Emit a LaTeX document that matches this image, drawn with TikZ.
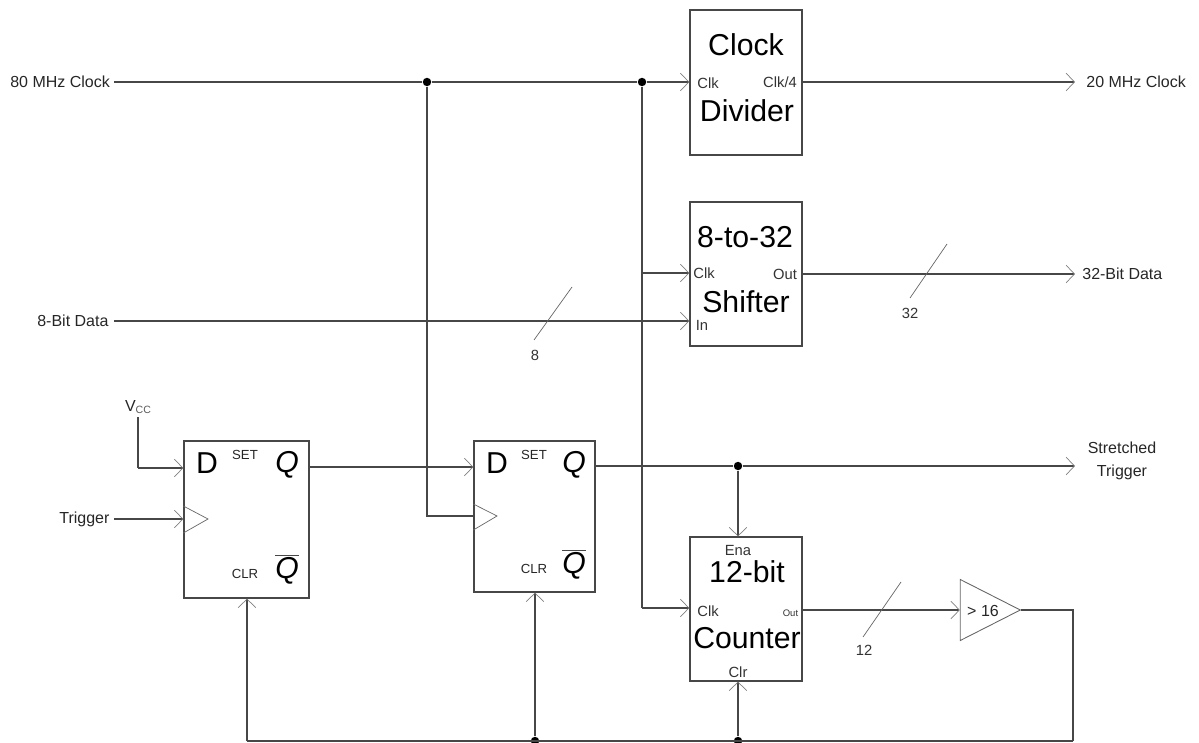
\documentclass[tikz,border=0pt]{standalone}
\usepackage{fontspec}
\setmainfont{Liberation Sans}
\usetikzlibrary{arrows.meta,shapes.geometric}

\begin{document}
\begin{tikzpicture}[x=0.02cm,y=-0.02cm]

% --- Global TikZ Styles ---
\tikzset{
    wire/.style={
        draw=black!72,
        line width=0.75pt
    },
    arrow/.style={
        wire,
        -{Straight Barb[length=4.8pt,width=10pt,line width=0.4pt,black!50]}
    },
    thinmark/.style={
        draw=black!60,
        line width=0.4pt
    },
    block/.style={
        draw=black!72,
        line width=0.75pt,
        rectangle,
        inner sep=0pt,
        minimum width=2.24cm
    },
    junction/.style={
        circle,
        fill=black,
        inner sep=0pt,
        minimum size=4.8pt
    },
    bigtext/.style={
        font=\fontsize{17.2}{19}\selectfont,
        inner sep=0pt
    },
    qtext/.style={
        font=\fontsize{17.2}{19}\selectfont\itshape,
        inner sep=0pt
    },
    pintext/.style={
        font=\fontsize{8.4}{10}\selectfont,
        text=black!80,
        inner sep=0pt
    },
    captext/.style={
        font=\fontsize{7.5}{9}\selectfont,
        text=black!85,
        inner sep=0pt
    },
    sigtext/.style={
        font=\fontsize{9.1}{10}\selectfont,
        text=black!85,
        align=center,
        inner sep=0pt
    },
    comparator/.style={
        draw=black!60,
        line width=0.5pt,
        isosceles triangle,
        isosceles triangle stretches,
        shape border rotate=0,
        inner sep=0pt,
        minimum width=1.22cm,
        minimum height=1.2cm
    }
}

\useasboundingbox (0,0) rectangle (1199,743);

% ==================================================
% --- Blocks ---
% ==================================================

\node[block,minimum height=2.9cm] (divider) at (746,82.5) {};
\node[block,minimum height=2.88cm] (shifter) at (746,274) {};
\node[block,minimum height=2.88cm] (counter) at (746,609) {};
\node[block,minimum width=2.5cm,minimum height=3.14cm] (ffa) at (246.5,519.5) {};
\node[block,minimum width=2.42cm,minimum height=3.02cm] (ffb) at (534.5,516.5) {};
\node[comparator] (cmp) at (979,610) {};

% Block titles
\node[bigtext] (divtitle) at (746,45) {Clock};
\node[bigtext] (divtitleb) at (747,111) {Divider};
\node[bigtext] (shtitle) at (745,237) {8-to-32};
\node[bigtext] (shtitleb) at (746,302) {Shifter};
\node[bigtext] (cnttitle) at (747,572) {12-bit};
\node[bigtext] (cnttitleb) at (747,638) {Counter};

% Pin names
\node[pintext] (divclk) at (708,83.5) {Clk};
\node[pintext] (divout) at (780,82) {Clk/4};
\node[pintext] (shclk) at (704,273) {Clk};
\node[pintext] (shout) at (785,274) {Out};
\node[pintext] (shin) at (702,325) {In};
\node[pintext] (cntena) at (738,550) {Ena};
\node[pintext] (cntclk) at (708,611) {Clk};
\node[pintext,font=\fontsize{5.4}{6}\selectfont] (cntout) at (790.5,613) {Out};
\node[pintext] (cntclr) at (738,672) {Clr};
\node[sigtext] (cmptext) at (983,611) {> 16};

% Flip-flop pin names
\foreach \ff/\xd/\xset/\xq/\yclr/\ynq in {ffa/207/245/287/574/571,ffb/497/534/574/569/566}{
    \node[bigtext] (\ff d) at (\xd,463) {D};
    \node[captext] (\ff set) at (\xset,455) {SET};
    \node[qtext] (\ff q) at (\xq,465) {Q};
    \node[captext] (\ff clr) at (\xset,\yclr) {CLR};
    \node[qtext] (\ff nq) at (\xq,\ynq) {Q};
    \draw[wire,line width=1pt] ({\xq-12},{\ynq-15.5}) -- ++(24,0);
}

% ==================================================
% --- Clock triangles ---
% ==================================================

\draw[thinmark] (ffa.west |- 0,506) -- (208,519) -- (ffa.west |- 0,533);
\draw[thinmark] (ffb.west |- 0,504) -- (497,516) -- (ffb.west |- 0,530);

% ==================================================
% --- Signal labels ---
% ==================================================

\node[sigtext,anchor=west] (clkin) at (10,82) {80 MHz Clock};
\node[sigtext,anchor=west] (clkout) at (1086,82) {20 MHz Clock};
\node[sigtext,anchor=west] (datain) at (37,321) {8-Bit Data};
\node[sigtext,anchor=west] (dataout) at (1082,274) {32-Bit Data};
\node[sigtext,anchor=west] (trigin) at (59,519) {Trigger};
\node[sigtext] (trigout) at (1122,461) {Stretched\\[3pt]Trigger};
\node[sigtext] (vcc) at (138,407) {V\raisebox{-1pt}{\fontsize{6}{6}\selectfont\color{black!65}CC}};
\node[pintext] (widtha) at (535,355) {8};
\node[pintext] (widthb) at (910,313) {32};
\node[pintext] (widthc) at (864,650) {12};

% ==================================================
% --- Junctions and corners ---
% ==================================================

\node[junction] (clka) at (427,82) {};
\node[junction] (clkb) at (642,82) {};
\node[junction] (trigj) at (738,466) {};
\node[junction] (clrb) at (535,741) {};
\node[junction] (clrc) at (738,741) {};

\coordinate (vcctop) at (138,417);
\coordinate (cornerright) at (1073,741);
\coordinate (cornerleft) at (247,741);

% ==================================================
% --- Connectors ---
% ==================================================

% Clock line
\draw[wire] (114,82) -- (clka);
\draw[wire] (clka) -- (clkb);
\draw[arrow] (clkb) -- (divider.west |- clkb);
\draw[arrow] (divider.east |- clkb) -- (1075,82);

% Clock branches
\draw[wire] (clka) |- (ffb.west |- 0,516);
\draw[wire] (clkb) -- (642,608);
\draw[arrow] (642,608) -- (counter.west |- 0,608);
\draw[arrow] (642,273) -- (shifter.west |- 0,273);

% Data
\draw[arrow] (114,321) -- (shifter.west |- datain);
\draw[arrow] (shifter.east |- 0,274) -- (1075,274);

% Flip-flops
\draw[wire] (vcctop) -- (138,468);
\draw[arrow] (138,468) -- (ffa.west |- 0,468);
\draw[arrow] (114,519) -- (ffa.west |- trigin);
\draw[arrow] (ffa.east |- 0,467) -- (ffb.west |- 0,467);

% Stretched trigger
\draw[wire] (ffb.east |- trigj) -- (trigj);
\draw[arrow] (trigj) -- (1075,466);
\draw[arrow] (trigj) -- (counter.north -| trigj);

% Comparator
\draw[arrow] (counter.east |- cmp) -- (cmp.west);

% Clear return
\draw[wire] (cmp.apex) -| (cornerright);
\draw[wire] (cornerright) -- (cornerleft);
\draw[arrow] (cornerleft) -- (ffa.south -| cornerleft);
\draw[arrow] (clrb) -- (ffb.south -| clrb);
\draw[arrow] (clrc) -- (counter.south -| clrc);

% Bus width marks
\draw[thinmark] (572,287) -- (534,340);
\draw[thinmark] (947,244) -- (910,298);
\draw[thinmark] (901,582) -- (863,637);

\end{tikzpicture}
\end{document}
